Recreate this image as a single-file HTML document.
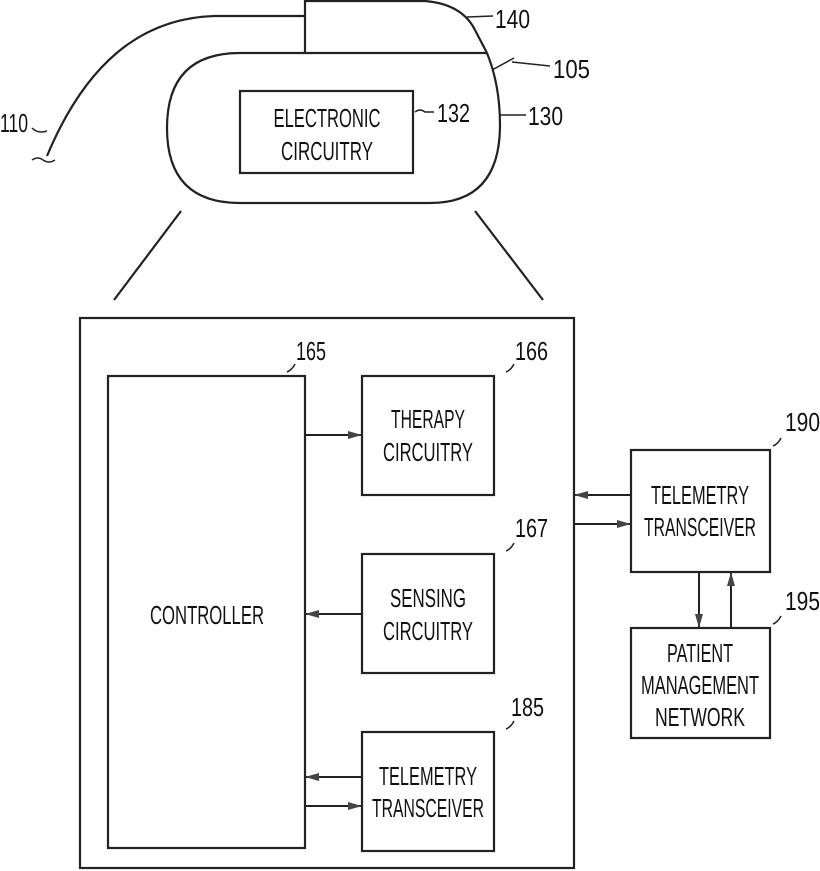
<!DOCTYPE html>
<html><head><meta charset="utf-8"><style>html,body{margin:0;padding:0;background:#fff}svg{display:block}text{font-family:"Liberation Sans Narrow","Liberation Sans",sans-serif;fill:#111}</style></head>
<body>
<svg width="820" height="871" viewBox="0 0 820 871" xmlns="http://www.w3.org/2000/svg">
<defs>
<marker id="a" markerWidth="14" markerHeight="10" refX="13" refY="5" orient="auto" markerUnits="userSpaceOnUse"><path d="M0,1 L14,5 L0,9 Z" fill="#444"/></marker>
</defs>
<g fill="none" stroke="#222" stroke-width="2.2">
<path d="M305,53 L305,0"/>
<path d="M305,1 L425,1 Q462,4 475,30 L487,53"/>
<line x1="305" y1="53" x2="487" y2="53"/>
<path d="M487,53 Q500,85 500,125 Q500,203 430,203 L240,203 Q167,203 167,128 Q167,53 240,53 L305,53"/>
<rect x="240" y="91" width="173" height="82"/>
<path d="M305,16 L215,16 C140,18 85,65 47,156"/>
<path d="M32,160 q6,-4 11,0 q6,4 12,0" stroke-width="1.5"/>
<path d="M32,128 q6,6 15,3" stroke-width="1.5"/>
<path d="M467,17 L493,16" stroke-width="1.5"/>
<path d="M492,70 L514,58 M512,62 L550,66" stroke-width="1.5"/>
<path d="M415,112 q5,-4 10,0 L434,112" stroke-width="1.5"/>
<path d="M500,115 L526,115" stroke-width="1.5"/>
<line x1="181" y1="211" x2="114" y2="300"/>
<line x1="475" y1="211" x2="543" y2="300"/>
<rect x="80" y="318" width="494" height="550"/>
<rect x="108" y="376" width="197" height="472"/>
<rect x="362" y="376" width="132" height="119"/>
<rect x="362" y="554" width="132" height="119"/>
<rect x="362" y="732" width="132" height="119"/>
<rect x="631" y="450" width="139" height="122"/>
<rect x="631" y="628" width="139" height="110"/>
<path d="M287,372 q5,-2 8,-8" stroke-width="1.5"/>
<path d="M506,372 q5,-2 8,-8" stroke-width="1.5"/>
<path d="M506,551 q5,-2 8,-8" stroke-width="1.5"/>
<path d="M506,729 q5,-2 8,-8" stroke-width="1.5"/>
<path d="M773,446 q5,-2 8,-8" stroke-width="1.5"/>
<path d="M773,624 q5,-2 8,-8" stroke-width="1.5"/>
</g>
<g stroke="#222" stroke-width="2" fill="none">
<line x1="305" y1="435" x2="361" y2="435" marker-end="url(#a)"/>
<line x1="362" y1="614" x2="306" y2="614" marker-end="url(#a)"/>
<line x1="362" y1="777" x2="306" y2="777" marker-end="url(#a)"/>
<line x1="305" y1="806" x2="361" y2="806" marker-end="url(#a)"/>
<line x1="631" y1="495" x2="575" y2="495" marker-end="url(#a)"/>
<line x1="574" y1="524" x2="630" y2="524" marker-end="url(#a)"/>
<line x1="699" y1="572" x2="699" y2="627" marker-end="url(#a)"/>
<line x1="731" y1="628" x2="731" y2="573" marker-end="url(#a)"/>
</g>
<g font-size="26" text-anchor="middle">
<text x="327" y="127" textLength="107" lengthAdjust="spacingAndGlyphs">ELECTRONIC</text>
<text x="327" y="160" textLength="92" lengthAdjust="spacingAndGlyphs">CIRCUITRY</text>
<text x="207" y="624" textLength="114" lengthAdjust="spacingAndGlyphs">CONTROLLER</text>
<text x="428" y="428" textLength="74" lengthAdjust="spacingAndGlyphs">THERAPY</text>
<text x="428" y="461" textLength="90" lengthAdjust="spacingAndGlyphs">CIRCUITRY</text>
<text x="428" y="607" textLength="76" lengthAdjust="spacingAndGlyphs">SENSING</text>
<text x="428" y="640" textLength="90" lengthAdjust="spacingAndGlyphs">CIRCUITRY</text>
<text x="428" y="785" textLength="98" lengthAdjust="spacingAndGlyphs">TELEMETRY</text>
<text x="428" y="817" textLength="112" lengthAdjust="spacingAndGlyphs">TRANSCEIVER</text>
<text x="700" y="504" textLength="98" lengthAdjust="spacingAndGlyphs">TELEMETRY</text>
<text x="700" y="536" textLength="112" lengthAdjust="spacingAndGlyphs">TRANSCEIVER</text>
<text x="700" y="662" textLength="66" lengthAdjust="spacingAndGlyphs">PATIENT</text>
<text x="700" y="694" textLength="118" lengthAdjust="spacingAndGlyphs">MANAGEMENT</text>
<text x="700" y="726" textLength="90" lengthAdjust="spacingAndGlyphs">NETWORK</text>
</g>
<g font-size="26" text-anchor="start">
<text x="495" y="28" textLength="35" lengthAdjust="spacingAndGlyphs">140</text>
<text x="553" y="78" textLength="37" lengthAdjust="spacingAndGlyphs">105</text>
<text x="437" y="122" textLength="33" lengthAdjust="spacingAndGlyphs">132</text>
<text x="528" y="125" textLength="35" lengthAdjust="spacingAndGlyphs">130</text>
<text x="0" y="132" textLength="28" lengthAdjust="spacingAndGlyphs">110</text>
<text x="296" y="360" textLength="30" lengthAdjust="spacingAndGlyphs">165</text>
<text x="515" y="360" textLength="33" lengthAdjust="spacingAndGlyphs">166</text>
<text x="515" y="537" textLength="33" lengthAdjust="spacingAndGlyphs">167</text>
<text x="511" y="716" textLength="33" lengthAdjust="spacingAndGlyphs">185</text>
<text x="785" y="431" textLength="35" lengthAdjust="spacingAndGlyphs">190</text>
<text x="785" y="610" textLength="35" lengthAdjust="spacingAndGlyphs">195</text>
</g>
</svg>
</body></html>
